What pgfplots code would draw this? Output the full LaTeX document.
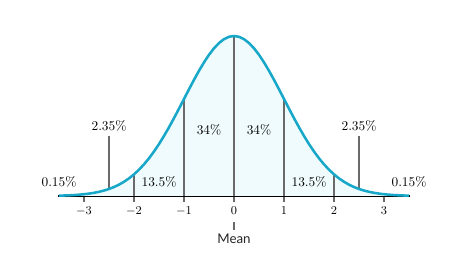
\documentclass[border=0pt]{standalone}
\usepackage{pgfplots}
\pgfplotsset{compat=1.18}
\usepackage{fontspec}
\setsansfont{Lato}
\definecolor{curve}{HTML}{17A8C9}
\definecolor{fillc}{HTML}{EFFBFD}
\definecolor{vline}{HTML}{6A6A6A}
\begin{document}
\begin{tikzpicture}
\begin{axis}[
  scale only axis, width=264pt, height=120pt,
  xmin=-3.52, xmax=3.52, ymin=0, ymax=0.39894,
  axis x line=bottom, axis y line=none,
  axis line style={black, line width=1.5pt, -},
  xtick={-3,-2,-1,0,1,2,3},
  tick align=outside, major tick length=4.5pt,
  xtick style={vline, line width=1pt},
  xticklabel style={font=\small, yshift=0pt},
  clip=false,
]
\path (axis cs:-4.68,-0.1496) rectangle (axis cs:4.68,0.4887);
\addplot[fill=fillc, draw=none] coordinates {
(-3.5,0.00087) (-3.4,0.00123) (-3.3,0.00172) (-3.2,0.00238) (-3.1,0.00327)
(-3.0,0.00443) (-2.9,0.00595) (-2.8,0.00792) (-2.7,0.01042) (-2.6,0.01358)
(-2.5,0.01753) (-2.4,0.02239) (-2.3,0.02833) (-2.2,0.03547) (-2.1,0.04398)
(-2.0,0.05399) (-1.9,0.06562) (-1.8,0.07895) (-1.7,0.09405) (-1.6,0.11092)
(-1.5,0.12952) (-1.4,0.14973) (-1.3,0.17137) (-1.2,0.19419) (-1.1,0.21785)
(-1.0,0.24197) (-0.9,0.26609) (-0.8,0.28969) (-0.7,0.31225) (-0.6,0.33322)
(-0.5,0.35207) (-0.4,0.36827) (-0.3,0.38139) (-0.2,0.39104) (-0.1,0.39695)
(0.0,0.39894)
(0.1,0.39695) (0.2,0.39104) (0.3,0.38139) (0.4,0.36827) (0.5,0.35207)
(0.6,0.33322) (0.7,0.31225) (0.8,0.28969) (0.9,0.26609) (1.0,0.24197)
(1.1,0.21785) (1.2,0.19419) (1.3,0.17137) (1.4,0.14973) (1.5,0.12952)
(1.6,0.11092) (1.7,0.09405) (1.8,0.07895) (1.9,0.06562) (2.0,0.05399)
(2.1,0.04398) (2.2,0.03547) (2.3,0.02833) (2.4,0.02239) (2.5,0.01753)
(2.6,0.01358) (2.7,0.01042) (2.8,0.00792) (2.9,0.00595) (3.0,0.00443)
(3.1,0.00327) (3.2,0.00238) (3.3,0.00172) (3.4,0.00123) (3.5,0.00087)
} \closedcycle;
% vertical lines
\addplot[vline, line width=1.1pt] coordinates {(-2,0) (-2,0.05399)};
\addplot[vline, line width=1.1pt] coordinates {(-1,0) (-1,0.24197)};
\addplot[vline, line width=1.1pt] coordinates {(0,0) (0,0.39894)};
\addplot[vline, line width=1.1pt] coordinates {(1,0) (1,0.24197)};
\addplot[vline, line width=1.1pt] coordinates {(2,0) (2,0.05399)};
\addplot[vline, line width=1.1pt] coordinates {(-2.5,0.01753) (-2.5,0.1496)};
\addplot[vline, line width=1.1pt] coordinates {(2.5,0.01753) (2.5,0.1496)};
\addplot[curve, line width=1.9pt] coordinates {
(-3.5,0.00087) (-3.4,0.00123) (-3.3,0.00172) (-3.2,0.00238) (-3.1,0.00327)
(-3.0,0.00443) (-2.9,0.00595) (-2.8,0.00792) (-2.7,0.01042) (-2.6,0.01358)
(-2.5,0.01753) (-2.4,0.02239) (-2.3,0.02833) (-2.2,0.03547) (-2.1,0.04398)
(-2.0,0.05399) (-1.9,0.06562) (-1.8,0.07895) (-1.7,0.09405) (-1.6,0.11092)
(-1.5,0.12952) (-1.4,0.14973) (-1.3,0.17137) (-1.2,0.19419) (-1.1,0.21785)
(-1.0,0.24197) (-0.9,0.26609) (-0.8,0.28969) (-0.7,0.31225) (-0.6,0.33322)
(-0.5,0.35207) (-0.4,0.36827) (-0.3,0.38139) (-0.2,0.39104) (-0.1,0.39695)
(0.0,0.39894)
(0.1,0.39695) (0.2,0.39104) (0.3,0.38139) (0.4,0.36827) (0.5,0.35207)
(0.6,0.33322) (0.7,0.31225) (0.8,0.28969) (0.9,0.26609) (1.0,0.24197)
(1.1,0.21785) (1.2,0.19419) (1.3,0.17137) (1.4,0.14973) (1.5,0.12952)
(1.6,0.11092) (1.7,0.09405) (1.8,0.07895) (1.9,0.06562) (2.0,0.05399)
(2.1,0.04398) (2.2,0.03547) (2.3,0.02833) (2.4,0.02239) (2.5,0.01753)
(2.6,0.01358) (2.7,0.01042) (2.8,0.00792) (2.9,0.00595) (3.0,0.00443)
(3.1,0.00327) (3.2,0.00238) (3.3,0.00172) (3.4,0.00123) (3.5,0.00087)
};
% Mean marker
\addplot[vline, line width=1.1pt] coordinates {(0,-0.0648) (0,-0.0848)};
\node[font=\sffamily, text=black!85] at (axis cs:0,-0.1072) {Mean};
% labels
\node at (axis cs:-2.5,0.1745) {2.35\%};
\node at (axis cs:2.5,0.1745) {2.35\%};
\node at (axis cs:-3.5,0.0349) {0.15\%};
\node at (axis cs:3.5,0.0349) {0.15\%};
\node at (axis cs:-1.5,0.0349) {13.5\%};
\node at (axis cs:1.5,0.0349) {13.5\%};
\node at (axis cs:-0.5,0.1645) {34\%};
\node at (axis cs:0.5,0.1645) {34\%};
\end{axis}
\end{tikzpicture}
\end{document}
